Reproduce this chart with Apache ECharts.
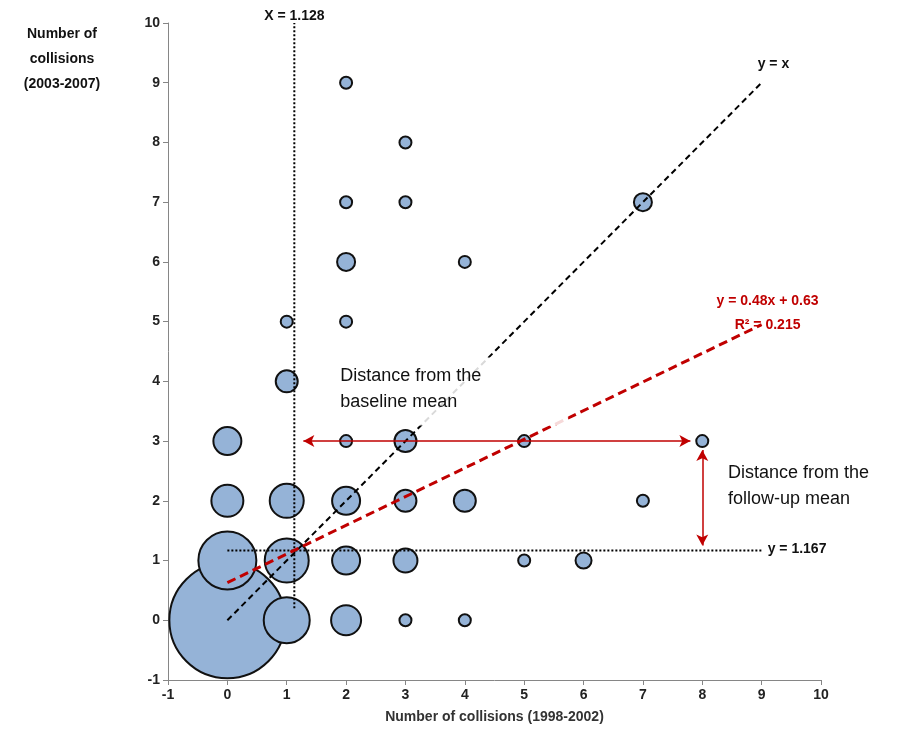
<!DOCTYPE html>
<html><head><meta charset="utf-8">
<script src="https://cdn.jsdelivr.net/npm/echarts@6/dist/echarts.min.js"></script>
<style>html,body{margin:0;background:#fff}#c{width:904px;height:746px}</style>
</head><body><div id="c"></div>
<script>
// bubbles: [baseline, follow-up, radius px]
var bubbles = [
  [0,0,58],[1,0,23],[2,0,15],[3,0,6],[4,0,6],
  [0,1,29],[1,1,22],[2,1,14],[3,1,12],[5,1,6],[6,1,8],
  [0,2,16],[1,2,17],[2,2,14],[3,2,11],[4,2,11],[7,2,6],
  [0,3,14],[2,3,6],[3,3,11],[5,3,6],[8,3,6],
  [1,4,11],[1,5,6],[2,5,6],[2,6,9],[4,6,6],
  [2,7,6],[3,7,6],[7,7,9],[3,8,6],[2,9,6]
];
var identityLine = [[0,0],[9,9]];
var fitLine = [[0,0.63],[9,4.95]];
var meanX = 1.128, meanY = 1.167;
var meanXLine = [[meanX,0.2],[meanX,10]];
var meanYLine = [[0,meanY],[9,meanY]];
var arrowH = [[1.28,3],[7.8,3]];
var arrowV = [[8,2.85],[8,1.25]];

var font = 'Liberation Sans';
var chart = echarts.init(document.getElementById('c'));
function lineSeries(d, color, type, width, z){
  return {type:'line', data:d, symbol:'none', silent:true, z:z||3,
    lineStyle:{color:color, type:type, width:width}};
}
function axis(name){
  return {type:'value', min:-1, max:10, interval:1,
    name:name, nameLocation:'middle', nameGap:30,
    nameTextStyle:{fontFamily:font, fontWeight:'bold', fontSize:14, color:'#333'},
    axisLine:{show:true, onZero:false, lineStyle:{color:'#868686'}},
    axisTick:{show:true, length:5, lineStyle:{color:'#868686'}},
    splitLine:{show:false},
    axisLabel:{fontFamily:font, fontWeight:'bold', fontSize:14, color:'#222'}};
}
var arrowLine = function(d){
  return {type:'line', data:[], silent:true, z:5,
    markLine:{symbol:['arrow','arrow'], symbolSize:[9,11], silent:true, label:{show:false},
      lineStyle:{color:'#c00000', type:'solid', width:1.5},
      data:[[{coord:d[0]},{coord:d[1]}]]}};
};
chart.setOption({
  animation:false,
  grid:{left:168, right:83, top:23, bottom:66},
  xAxis: axis('Number of collisions (1998-2002)'),
  yAxis: axis(''),
  series:[
    {type:'scatter', data:bubbles, z:2,
      symbolSize:function(v){return v[2]*2;},
      itemStyle:{color:'#95b3d7', opacity:1, borderColor:'#111', borderWidth:2}},
    lineSeries(meanXLine,'#000','dotted',2),
    lineSeries(meanYLine,'#000','dotted',2),
    lineSeries(identityLine,'#000',[6,4],2),
    lineSeries(fitLine,'#c00000',[9,5],3),
    arrowLine(arrowH), arrowLine(arrowV)
  ]
});
function px(p){return chart.convertToPixel({gridIndex:0}, p);}
var tb = {fontFamily:font, fontWeight:'bold', fontSize:14, fill:'#111'};
var p1 = px([meanX,10]), p2 = px([9,9]), p3 = px([9,meanY]), p4 = px([9.1,5.55]);
var b1 = px([1.9,4.2]), b2 = px([8.5,2.55]);
chart.setOption({graphic:[
  {type:'text', x:62, y:22, style:Object.assign({}, tb, {text:'Number of\ncollisions\n(2003-2007)', textAlign:'center', lineHeight:25})},
  {type:'text', x:p1[0], y:p1[1]-14, style:Object.assign({}, tb, {text:'X = 1.128', textAlign:'center'})},
  {type:'text', x:p2[0]-4, y:p2[1]-26, style:Object.assign({}, tb, {text:'y = x'})},
  {type:'text', x:p3[0]+6, y:p3[1]-8, style:Object.assign({}, tb, {text:'y = 1.167'})},
  {type:'text', x:p4[0], y:p4[1], style:Object.assign({}, tb, {text:'y = 0.48x + 0.63\nR² = 0.215', fill:'#c00000', textAlign:'center', lineHeight:24})},
  {type:'rect', z:10, shape:{x:b1[0]-10, y:b1[1]-12, width:238, height:68}, style:{fill:'rgba(255,255,255,0.85)'}},
  {type:'text', z:11, x:b1[0], y:b1[1]-6, style:{text:'Distance from the\nbaseline mean', fontFamily:font, fontSize:18, fill:'#111', lineHeight:26}},
  {type:'rect', z:10, shape:{x:b2[0]-12, y:b2[1]-14, width:180, height:68}, style:{fill:'rgba(255,255,255,0.85)'}},
  {type:'text', z:11, x:b2[0]-4, y:b2[1]-8, style:{text:'Distance from the\nfollow-up mean', fontFamily:font, fontSize:18, fill:'#111', lineHeight:26}}
]});
</script></body></html>
